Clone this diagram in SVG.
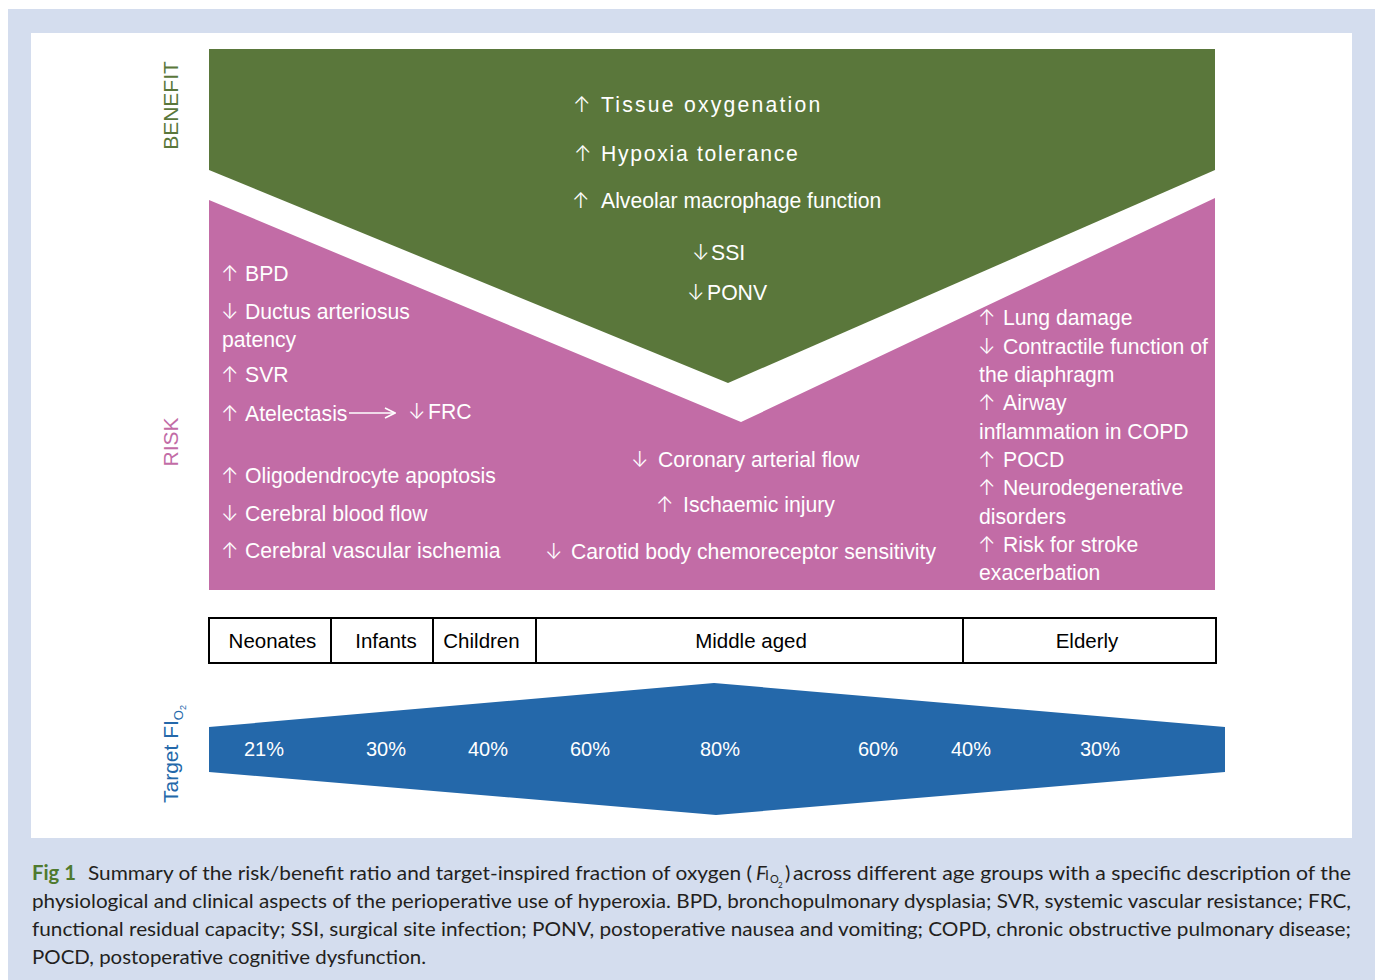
<svg xmlns="http://www.w3.org/2000/svg" width="1375" height="980" viewBox="0 0 1375 980">
  <defs>
    <style>
      text { font-family: "Liberation Sans", Arial, sans-serif; }
      .w { fill: #ffffff; font-size: 21.2px; }
      .g { fill: #ffffff; font-size: 21.2px; }
      .ar { font-family: Inter, "DejaVu Sans", sans-serif; font-weight: 300; font-size: 21px; }
      .cell { fill: #000000; font-size: 20.5px; text-anchor: middle; }
      .pct { fill: #ffffff; font-size: 20px; text-anchor: middle; }
      .side { font-size: 21px; }
      .cap { font-family: Lato, "Open Sans", "Noto Sans", sans-serif; font-size: 20px; fill: #231f20; }
    </style>
    <marker id="open-head" viewBox="0 0 12 12" refX="11" refY="6" markerWidth="12" markerHeight="12" markerUnits="userSpaceOnUse" orient="auto">
      <path d="M1,1 L11,6 L1,11" fill="none" stroke="#ffffff" stroke-width="1.6"/>
    </marker>
  </defs>

  <!-- page background and figure panel -->
  <rect x="0" y="0" width="1375" height="980" fill="#ffffff"/>
  <rect x="8" y="9" width="1367" height="971" fill="#d4ddee"/>
  <rect x="31" y="33" width="1321" height="805" fill="#ffffff"/>

  <!-- axis labels -->
  <g id="label-benefit">
    <text class="side" fill="#5a773b" text-anchor="middle" transform="translate(178,105.5) rotate(-90)">BENEFIT</text>
  </g>
  <g id="label-risk">
    <text class="side" fill="#c26ca6" text-anchor="middle" transform="translate(178,442) rotate(-90)">RISK</text>
  </g>
  <g id="label-target">
    <text class="side" fill="#2468aa" transform="translate(178,803) rotate(-90)">Target FI<tspan font-size="13" dy="5">O</tspan><tspan font-size="9" dy="3">2</tspan></text>
  </g>

  <!-- benefit band -->
  <g id="benefit">
    <polygon points="209,49 1215,49 1215,170 728,383 209,170" fill="#5a773b"/>
    <text class="g" y="112"><tspan class="ar" x="573">↑</tspan><tspan x="601" letter-spacing="2.2">Tissue oxygenation</tspan></text>
    <text class="g" y="161"><tspan class="ar" x="574">↑</tspan><tspan x="601" letter-spacing="1.7">Hypoxia tolerance</tspan></text>
    <text class="g" y="208"><tspan class="ar" x="572">↑</tspan><tspan x="601">Alveolar macrophage function</tspan></text>
    <text class="g" y="260"><tspan class="ar" x="692">↓</tspan><tspan x="711">SSI</tspan></text>
    <text class="g" y="300"><tspan class="ar" x="687">↓</tspan><tspan x="707">PONV</tspan></text>
  </g>

  <!-- risk band -->
  <g id="risk">
    <polygon points="209,200 741,422 1215,198 1215,590 209,590" fill="#c26ca6"/>
    <!-- neonates / infants -->
    <text class="w" y="281"><tspan class="ar" x="221">↑</tspan><tspan x="245">BPD</tspan></text>
    <text class="w" y="319"><tspan class="ar" x="221">↓</tspan><tspan x="245">Ductus arteriosus</tspan></text>
    <text class="w" x="222" y="347">patency</text>
    <text class="w" y="382"><tspan class="ar" x="221">↑</tspan><tspan x="245">SVR</tspan></text>
    <text class="w" y="421"><tspan class="ar" x="221">↑</tspan><tspan x="245">Atelectasis</tspan></text>
    <text class="w" y="419"><tspan class="ar" x="408">↓</tspan><tspan x="428">FRC</tspan></text>
    <text class="w" y="483"><tspan class="ar" x="221">↑</tspan><tspan x="245">Oligodendrocyte apoptosis</tspan></text>
    <text class="w" y="521"><tspan class="ar" x="221">↓</tspan><tspan x="245">Cerebral blood flow</tspan></text>
    <text class="w" y="558"><tspan class="ar" x="221">↑</tspan><tspan x="245">Cerebral vascular ischemia</tspan></text>
    <!-- middle aged -->
    <text class="w" y="467"><tspan class="ar" x="631">↓</tspan><tspan x="658">Coronary arterial flow</tspan></text>
    <text class="w" y="512"><tspan class="ar" x="656">↑</tspan><tspan x="683">Ischaemic injury</tspan></text>
    <text class="w" y="559"><tspan class="ar" x="545">↓</tspan><tspan x="571">Carotid body chemoreceptor sensitivity</tspan></text>
    <!-- elderly -->
    <text class="w" y="325"><tspan class="ar" x="978">↑</tspan><tspan x="1003">Lung damage</tspan></text>
    <text class="w" y="354"><tspan class="ar" x="978">↓</tspan><tspan x="1003">Contractile function of</tspan></text>
    <text class="w" x="979" y="382">the diaphragm</text>
    <text class="w" y="410"><tspan class="ar" x="978">↑</tspan><tspan x="1003">Airway</tspan></text>
    <text class="w" x="979" y="439">inflammation in COPD</text>
    <text class="w" y="467"><tspan class="ar" x="978">↑</tspan><tspan x="1003">POCD</tspan></text>
    <text class="w" y="495"><tspan class="ar" x="978">↑</tspan><tspan x="1003">Neurodegenerative</tspan></text>
    <text class="w" x="979" y="524">disorders</text>
    <text class="w" y="552"><tspan class="ar" x="978">↑</tspan><tspan x="1003">Risk for stroke</tspan></text>
    <text class="w" x="979" y="580">exacerbation</text>
  </g>

  <!-- connectors -->
  <g id="connectors">
    <line x1="349" y1="413" x2="395" y2="413" stroke="#ffffff" stroke-width="1.6" marker-end="url(#open-head)"/>
  </g>

  <!-- age groups -->
  <g id="age-groups">
    <rect x="209" y="618" width="1007" height="45" fill="#ffffff" stroke="#000000" stroke-width="2"/>
    <line x1="331" y1="618" x2="331" y2="663" stroke="#000000" stroke-width="2"/>
    <line x1="433" y1="618" x2="433" y2="663" stroke="#000000" stroke-width="2"/>
    <line x1="536" y1="618" x2="536" y2="663" stroke="#000000" stroke-width="2"/>
    <line x1="963" y1="618" x2="963" y2="663" stroke="#000000" stroke-width="2"/>
    <text class="cell" x="272.5" y="648">Neonates</text>
    <text class="cell" x="386" y="648">Infants</text>
    <text class="cell" x="481.5" y="648">Children</text>
    <text class="cell" x="751" y="648">Middle aged</text>
    <text class="cell" x="1087" y="648">Elderly</text>
  </g>

  <!-- target FiO2 band -->
  <g id="target-fio2">
    <polygon points="209,727 714,683 1225,727 1225,772 716,815 209,772" fill="#2468aa"/>
    <text class="pct" x="264" y="756">21%</text>
    <text class="pct" x="386" y="756">30%</text>
    <text class="pct" x="488" y="756">40%</text>
    <text class="pct" x="590" y="756">60%</text>
    <text class="pct" x="720" y="756">80%</text>
    <text class="pct" x="878" y="756">60%</text>
    <text class="pct" x="971" y="756">40%</text>
    <text class="pct" x="1100" y="756">30%</text>
  </g>

  <!-- caption -->
  <g id="caption">
    <text class="cap" x="32" y="880" font-weight="bold" fill="#4f7a2e" style="fill:#4f7a2e" textLength="44" lengthAdjust="spacingAndGlyphs">Fig 1</text>
    <text class="cap" x="88" y="880" textLength="664" lengthAdjust="spacingAndGlyphs">Summary of the risk/benefit ratio and target-inspired fraction of oxygen (</text>
    <text class="cap" x="756" y="880" font-style="italic">F</text>
    <text class="cap" x="765" y="880" style="font-size:14px">I</text>
    <text class="cap" x="770" y="883" style="font-size:11px">O</text>
    <text class="cap" x="778" y="888" style="font-size:8px">2</text>
    <text class="cap" x="785" y="880">)</text>
    <text class="cap" x="793" y="880" textLength="558" lengthAdjust="spacingAndGlyphs">across different age groups with a specific description of the</text>
    <text class="cap" x="32" y="908" textLength="1319" lengthAdjust="spacingAndGlyphs">physiological and clinical aspects of the perioperative use of hyperoxia. BPD, bronchopulmonary dysplasia; SVR, systemic vascular resistance; FRC,</text>
    <text class="cap" x="32" y="936" textLength="1319" lengthAdjust="spacingAndGlyphs">functional residual capacity; SSI, surgical site infection; PONV, postoperative nausea and vomiting; COPD, chronic obstructive pulmonary disease;</text>
    <text class="cap" x="32" y="964" textLength="394" lengthAdjust="spacingAndGlyphs">POCD, postoperative cognitive dysfunction.</text>
  </g>
</svg>
